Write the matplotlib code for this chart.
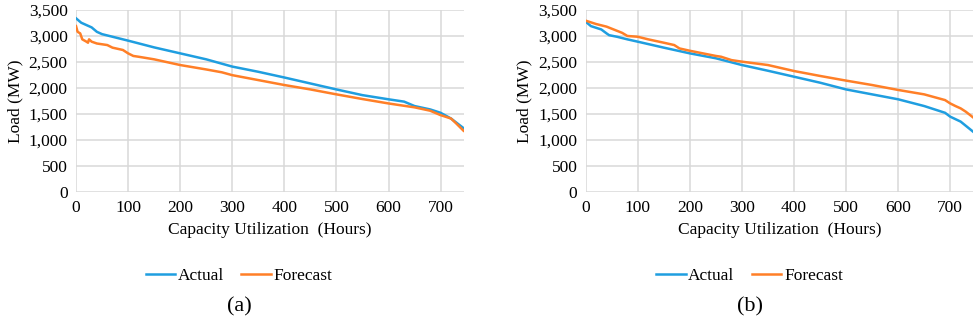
import numpy as np
import matplotlib.pyplot as plt
from matplotlib.ticker import FuncFormatter

FONT = 'Liberation Serif'
plt.rcParams['font.family'] = FONT
plt.rcParams['font.size'] = 12

# (a) load duration curves, hours vs MW
hours_a_act = [0, 10, 20, 30, 40, 50, 70, 100, 150, 200, 250, 300, 350, 400, 450,
               500, 550, 600, 630, 650, 680, 700, 720, 744]
load_a_act = [3340, 3255, 3210, 3165, 3080, 3035, 2985, 2910, 2780, 2665, 2550, 2410,
              2310, 2200, 2085, 1970, 1860, 1780, 1735, 1650, 1585, 1520, 1410, 1225]
hours_a_fc = [0, 3, 8, 12, 20, 23, 25, 30, 40, 60, 70, 90, 100, 110, 120, 150, 200,
              250, 280, 300, 350, 400, 450, 500, 550, 600, 650, 680, 700, 720, 730, 744]
load_a_fc = [3190, 3080, 3050, 2935, 2890, 2870, 2935, 2890, 2855, 2825, 2775, 2730,
             2665, 2615, 2600, 2550, 2440, 2355, 2300, 2245, 2150, 2055, 1970, 1875,
             1785, 1700, 1625, 1560, 1475, 1410, 1315, 1175]

# (b)
hours_b_act = [0, 10, 30, 40, 45, 60, 80, 100, 150, 200, 250, 300, 350, 400, 450,
               500, 550, 600, 650, 690, 700, 720, 744]
load_b_act = [3275, 3190, 3125, 3050, 3015, 2985, 2935, 2890, 2775, 2665, 2570, 2440,
              2330, 2215, 2100, 1970, 1875, 1780, 1650, 1520, 1445, 1350, 1155]
hours_b_fc = [0, 20, 40, 60, 70, 80, 100, 120, 150, 170, 180, 200, 250, 260, 280, 300,
              350, 400, 450, 500, 550, 600, 650, 690, 700, 710, 720, 730, 744]
load_b_fc = [3295, 3230, 3180, 3100, 3060, 3000, 2985, 2935, 2870, 2825, 2760, 2715,
             2615, 2600, 2535, 2505, 2440, 2325, 2230, 2140, 2055, 1960, 1875, 1765,
             1700, 1650, 1605, 1540, 1430]

panels = [
    ("(a)", hours_a_act, load_a_act, hours_a_fc, load_a_fc),
    ("(b)", hours_b_act, load_b_act, hours_b_fc, load_b_fc),
]

c_act = '#1f9ee0'
c_fc = '#ff7f27'

fig = plt.figure(figsize=(9.76, 3.21), dpi=100)
lefts = [0.0779, 0.6001]
legend_x = [0.245, 0.768]

for i, (tag, ha, la, hf, lf) in enumerate(panels):
    ax = fig.add_axes([lefts[i], 0.4028, 0.397, 0.566])
    ax.plot(ha, la, color=c_act, lw=1.8, label='Actual')
    ax.plot(hf, lf, color=c_fc, lw=1.8, label='Forecast')
    ax.set_xlim(0, 744)
    ax.set_ylim(0, 3500)
    ax.set_xticks(np.arange(0, 701, 100))
    ax.set_yticks(np.arange(0, 3501, 500))
    ax.yaxis.set_major_formatter(FuncFormatter(lambda v, p: '{:,.0f}'.format(v)))
    ax.grid(True, color='#d9d9d9', lw=1.1)
    ax.set_axisbelow(True)
    for s in ax.spines.values():
        s.set_visible(False)
    ax.tick_params(length=0, pad=6, labelsize=12.5)
    for lab in ax.get_xticklabels() + ax.get_yticklabels():
        lab.set_fontfamily(FONT)
    ax.set_xlabel('Capacity Utilization  (Hours)', labelpad=4, family=FONT, fontsize=12.5)
    ax.set_ylabel('Load (MW)', labelpad=4, family=FONT, fontsize=12.5)
    fig.legend(handles=ax.get_lines(), loc='center', bbox_to_anchor=(legend_x[i], 0.14),
               ncol=2, frameon=False, handlelength=1.7, handletextpad=0.15,
               columnspacing=1.0, prop={'family': FONT, 'size': 12.5})
    fig.text(legend_x[i], 0.045, tag, ha='center', va='center', fontsize=16, family=FONT)

fig.savefig('out.png', dpi=100)
